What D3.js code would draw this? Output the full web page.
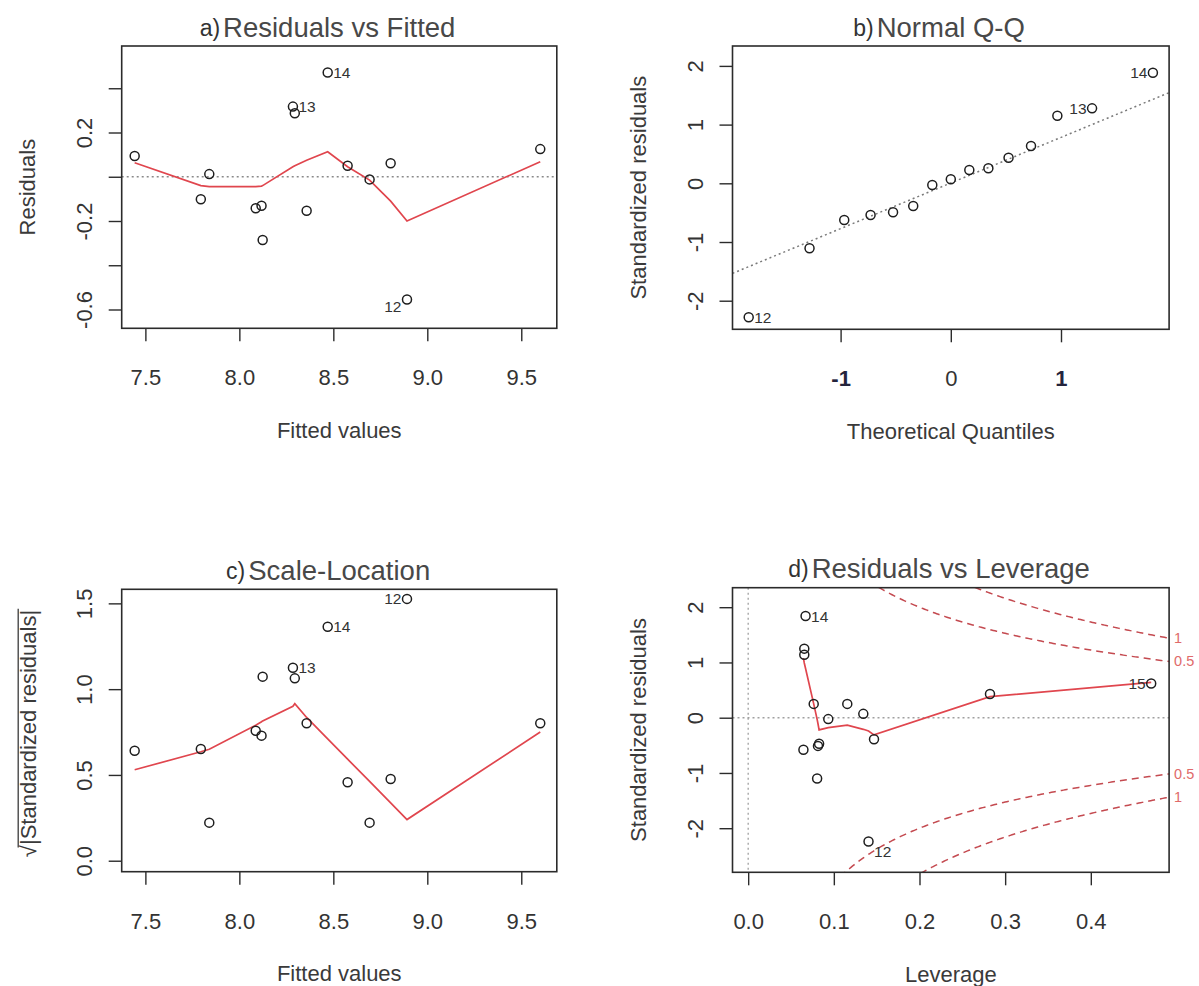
<!DOCTYPE html>
<html>
<head>
<meta charset="utf-8">
<title>Regression diagnostics</title>
<script src="https://cdn.jsdelivr.net/npm/d3@7/dist/d3.min.js"></script>
<style>
  html, body { margin: 0; padding: 0; background: #ffffff; }
  svg { display: block; }
  text { font-family: "Liberation Sans", Arial, Helvetica, sans-serif; }
</style>
</head>
<body>
<svg id="chart" width="1199" height="986"></svg>
<script>
// ---------- Residuals vs Fitted and Scale-Location (observations ordered by fitted value)
const fittedValues    = [7.443, 7.795, 7.840, 8.087, 8.118, 8.124, 8.285, 8.295, 8.358, 8.470, 8.576, 8.693, 8.805, 8.892, 9.601];
const residuals       = [0.094, -0.102, 0.012, -0.142, -0.131, -0.286, 0.317, 0.287, -0.154, 0.471, 0.050, -0.012, 0.061, -0.555, 0.125];
const residSmooth     = [0.063, -0.040, -0.045, -0.045, -0.042, -0.040, 0.045, 0.050, 0.075, 0.113, 0.045, -0.015, -0.110, -0.200, 0.068];
const sqrtAbsStdResid = [0.641, 0.651, 0.222, 0.758, 0.729, 1.073, 1.125, 1.063, 0.801, 1.364, 0.457, 0.222, 0.476, 1.526, 0.801];
const scaleSmooth     = [0.530, 0.635, 0.650, 0.790, 0.810, 0.815, 0.900, 0.915, 0.835, 0.710, 0.592, 0.462, 0.337, 0.240, 0.750];
const fittedIds       = ["", "", "", "", "", "", "13", "", "", "14", "", "", "", "12", ""];

// ---------- Normal Q-Q
const theoreticalQuantiles = [-1.834, -1.282, -0.967, -0.728, -0.524, -0.341, -0.168, 0.000, 0.168, 0.341, 0.524, 0.728, 0.967, 1.282, 1.834];
const qqStdResid           = [-2.283, -1.107, -0.625, -0.540, -0.494, -0.387, -0.029, 0.068, 0.227, 0.256, 0.436, 0.635, 1.152, 1.277, 1.884];
const qqIds                = ["12", "", "", "", "", "", "", "", "", "", "", "", "", "13", "14"];
const qqLineIntercept = 0.005;
const qqLineSlope = 0.777;

// ---------- Residuals vs Leverage (observations ordered by leverage)
const leverage    = [0.0645, 0.0655, 0.0655, 0.0670, 0.0765, 0.0805, 0.0815, 0.0828, 0.0935, 0.1157, 0.1344, 0.1405, 0.1469, 0.2823, 0.4705];
const levStdResid = [-0.58, 1.25, 1.14, 1.84, 0.25, -1.10, -0.51, -0.47, -0.025, 0.25, 0.07, -2.24, -0.39, 0.43, 0.62];
const levSmooth   = [1.08, 0.99, 0.99, 0.89, 0.25, -0.03, -0.11, -0.22, -0.18, -0.135, -0.21, -0.24, -0.31, 0.38, 0.64];
const levIds      = ["", "", "", "14", "", "", "", "", "", "", "", "12", "", "", "15"];
const cookLevels      = [0.5, 1];
const cookLevelLabels = ["0.5", "1"];
const modelParams = 2;

// ---------- Titles, axis titles and ticks
const panelTags     = ["a)", "b)", "c)", "d)"];
const panelCaptions = ["Residuals vs Fitted", "Normal Q-Q", "Scale-Location", "Residuals vs Leverage"];
const xAxisTitles   = ["Fitted values", "Theoretical Quantiles", "Fitted values", "Leverage"];
const yAxisTitles   = ["Residuals", "Standardized residuals", "|Standardized residuals|", "Standardized residuals"];

const fittedTicks      = [7.5, 8.0, 8.5, 9.0, 9.5];
const fittedTickLabels = ["7.5", "8.0", "8.5", "9.0", "9.5"];
const residTicks       = [-0.6, -0.4, -0.2, 0, 0.2, 0.4];
const residTickLabels  = ["-0.6", "", "-0.2", "", "0.2", ""];
const quantTicks       = [-1, 0, 1];
const quantTickLabels  = ["-1", "0", "1"];
const stdTicks         = [-2, -1, 0, 1, 2];
const stdTickLabels    = ["-2", "-1", "0", "1", "2"];
const sqrtTicks        = [0, 0.5, 1.0, 1.5];
const sqrtTickLabels   = ["0.0", "0.5", "1.0", "1.5"];
const levTicks         = [0, 0.1, 0.2, 0.3, 0.4];
const levTickLabels    = ["0.0", "0.1", "0.2", "0.3", "0.4"];

// ---------- Layout
const svg = d3.select("#chart");
const frames = [
  { x0: 121.7, x1: 556.8,  y0: 46.0,  y1: 328.3 },
  { x0: 732.5, x1: 1169.1, y0: 46.0,  y1: 329.3 },
  { x0: 121.7, x1: 556.8,  y0: 589.3, y1: 871.7 },
  { x0: 732.5, x1: 1169.1, y0: 587.7, y1: 872.3 }
];
const INK = "#2b2b2b";
const TEXT = "#3a3a3a";
const RED = "#e0464e";
const DOT = "#8a8a8a";

function makePanel(k, xDomain, yDomain, xTicks, xLabels, yTicks, yLabels) {
  const f = frames[k];
  const sx = d3.scaleLinear().domain(xDomain).range([f.x0, f.x1]);
  const sy = d3.scaleLinear().domain(yDomain).range([f.y1, f.y0]);
  const g = svg.append("g");
  const clipId = "plot-clip-" + k;
  g.append("clipPath").attr("id", clipId)
    .append("rect")
    .attr("x", f.x0).attr("y", f.y0)
    .attr("width", f.x1 - f.x0).attr("height", f.y1 - f.y0);
  const inner = g.append("g").attr("clip-path", `url(#${clipId})`);

  // x axis
  const gx = g.append("g").attr("class", "x-axis").attr("transform", `translate(0,${f.y1})`)
    .call(d3.axisBottom(sx).tickValues(xTicks)
      .tickFormat(d => xLabels[xTicks.indexOf(d)]).tickSize(13));
  gx.select(".domain").remove();
  gx.selectAll(".tick line").attr("stroke", INK).attr("stroke-width", 1.4);
  gx.selectAll(".tick text")
    .attr("y", 57).attr("dy", null)
    .attr("font-size", 22).attr("fill", "#333");

  // y axis, labels turned parallel to the axis
  const gy = g.append("g").attr("class", "y-axis").attr("transform", `translate(${f.x0},0)`)
    .call(d3.axisLeft(sy).tickValues(yTicks)
      .tickFormat(d => yLabels[yTicks.indexOf(d)]).tickSize(13));
  gy.select(".domain").remove();
  gy.selectAll(".tick line").attr("stroke", INK).attr("stroke-width", 1.4);
  gy.selectAll(".tick text")
    .attr("x", 0).attr("dy", null)
    .attr("transform", "translate(-37,0) rotate(-90)")
    .attr("text-anchor", "middle")
    .attr("dominant-baseline", "central")
    .attr("font-size", 22).attr("fill", "#333");

  // caption with panel tag
  const cx = (f.x0 + f.x1) / 2;
  const baseY = f.y0 - 9.5;
  const cap = g.append("text")
    .attr("x", cx).attr("y", baseY)
    .attr("text-anchor", "middle")
    .attr("font-size", 27.5).attr("fill", "#484848")
    .text(panelCaptions[k]);
  const capW = cap.node().getComputedTextLength();
  g.append("text")
    .attr("x", cx - capW / 2 - 3).attr("y", baseY - 1)
    .attr("text-anchor", "end")
    .attr("font-size", 23).attr("fill", "#333")
    .text(panelTags[k]);

  // x axis title
  g.append("text")
    .attr("x", cx).attr("y", f.y1 + 109.5)
    .attr("text-anchor", "middle")
    .attr("font-size", 22).attr("fill", TEXT)
    .text(xAxisTitles[k]);

  return { g, inner, sx, sy, f };
}

function yTitle(p, k) {
  const f = p.f;
  p.g.append("text")
    .attr("transform", `translate(${f.x0 - 94},${(f.y0 + f.y1) / 2}) rotate(-90)`)
    .attr("text-anchor", "middle")
    .attr("dominant-baseline", "central")
    .attr("font-size", 22).attr("fill", TEXT)
    .text(yAxisTitles[k]);
}

function drawFrame(p) {
  const f = p.f;
  p.g.append("rect")
    .attr("x", f.x0).attr("y", f.y0)
    .attr("width", f.x1 - f.x0).attr("height", f.y1 - f.y0)
    .attr("fill", "none").attr("stroke", INK).attr("stroke-width", 1.6);
}

function drawPoints(p, xs, ys) {
  p.inner.selectAll("circle.obs").data(xs).join("circle")
    .attr("class", "obs")
    .attr("cx", d => p.sx(d))
    .attr("cy", (d, i) => p.sy(ys[i]))
    .attr("r", 4.5)
    .attr("fill", "none").attr("stroke", "#1e1e1e").attr("stroke-width", 1.5);
}

function drawIds(p, xs, ys, ids, lowerShift) {
  const mid = d3.mean(p.sx.domain());
  ids.forEach((id, i) => {
    if (!id) return;
    const right = xs[i] < mid;
    const px = p.sx(xs[i]);
    const py = p.sy(ys[i]) + (lowerShift && ys[i] < 0 ? lowerShift : 0);
    p.g.append("text")
      .attr("x", right ? px + 5.5 : px - 5.5)
      .attr("y", py)
      .attr("text-anchor", right ? "start" : "end")
      .attr("dominant-baseline", "central")
      .attr("font-size", 15.5).attr("fill", "#333")
      .text(id);
  });
}

function drawSmooth(p, xs, ys) {
  const line = d3.line().x(d => p.sx(d)).y((d, i) => p.sy(ys[i]));
  p.inner.append("path")
    .attr("d", line(xs))
    .attr("fill", "none").attr("stroke", RED).attr("stroke-width", 1.7);
}

function hLine(p, v, color) {
  p.inner.append("line")
    .attr("x1", p.f.x0).attr("x2", p.f.x1)
    .attr("y1", p.sy(v)).attr("y2", p.sy(v))
    .attr("stroke", color).attr("stroke-width", 1.4).attr("stroke-dasharray", "2,3");
}

// ---------- a) Residuals vs Fitted
const pA = makePanel(0, [7.374, 9.689], [-0.685, 0.591], fittedTicks, fittedTickLabels, residTicks, residTickLabels);
yTitle(pA, 0);
hLine(pA, 0, DOT);
drawSmooth(pA, fittedValues, residSmooth);
drawPoints(pA, fittedValues, residuals);
drawIds(pA, fittedValues, residuals, fittedIds, 7);
drawFrame(pA);

// ---------- b) Normal Q-Q
const pB = makePanel(1, [-1.981, 1.981], [-2.487, 2.339], quantTicks, quantTickLabels, stdTicks, stdTickLabels);
yTitle(pB, 1);
pB.g.select(".x-axis").selectAll(".tick text")
  .filter(d => d !== 0)
  .attr("font-weight", "bold").attr("fill", "#24243c");
{
  const [q0, q1] = pB.sx.domain();
  pB.inner.append("line")
    .attr("x1", pB.sx(q0)).attr("y1", pB.sy(qqLineIntercept + qqLineSlope * q0))
    .attr("x2", pB.sx(q1)).attr("y2", pB.sy(qqLineIntercept + qqLineSlope * q1))
    .attr("stroke", "#7a7a7a").attr("stroke-width", 1.5).attr("stroke-dasharray", "2,3");
}
drawPoints(pB, theoreticalQuantiles, qqStdResid);
drawIds(pB, theoreticalQuantiles, qqStdResid, qqIds, 0);
drawFrame(pB);

// ---------- c) Scale-Location
const pC = makePanel(2, [7.374, 9.689], [-0.064, 1.582], fittedTicks, fittedTickLabels, sqrtTicks, sqrtTickLabels);
{
  // square-root label with its overbar
  const f = pC.f;
  const gl = pC.g.append("g")
    .attr("transform", `translate(${f.x0 - 85.5},${(f.y0 + f.y1) / 2 + 3}) rotate(-90)`);
  const t = gl.append("text")
    .attr("text-anchor", "middle")
    .attr("font-size", 22).attr("fill", TEXT);
  t.append("tspan").text("\u221A");
  t.append("tspan").text(yAxisTitles[2]);
  const total = t.node().getComputedTextLength();
  const rad = t.node().getSubStringLength(0, 1);
  gl.append("line")
    .attr("x1", -total / 2 + rad * 0.8).attr("x2", total / 2 + 1)
    .attr("y1", -18).attr("y2", -18)
    .attr("stroke", TEXT).attr("stroke-width", 1.3);
}
drawSmooth(pC, fittedValues, scaleSmooth);
drawPoints(pC, fittedValues, sqrtAbsStdResid);
drawIds(pC, fittedValues, sqrtAbsStdResid, fittedIds, 0);
drawFrame(pC);

// ---------- d) Residuals vs Leverage
const pD = makePanel(3, [-0.0183, 0.4914], [-2.798, 2.353], levTicks, levTickLabels, stdTicks, stdTickLabels);
yTitle(pD, 3);
hLine(pD, 0, "#a0a0a0");
pD.inner.append("line")
  .attr("x1", pD.sx(0)).attr("x2", pD.sx(0))
  .attr("y1", pD.f.y0).attr("y2", pD.f.y1)
  .attr("stroke", "#a0a0a0").attr("stroke-width", 1.3).attr("stroke-dasharray", "2,3");
{
  // Cook's distance contours
  const hMax = pD.sx.domain()[1];
  const hGrid = d3.range(0.01, hMax, 0.002).concat([hMax]);
  cookLevels.forEach((lvl, j) => {
    const bound = h => Math.sqrt(lvl * modelParams * (1 - h) / h);
    [1, -1].forEach(sign => {
      const line = d3.line().x(h => pD.sx(h)).y(h => pD.sy(sign * bound(h)));
      pD.inner.append("path")
        .attr("d", line(hGrid))
        .attr("fill", "none").attr("stroke", "#c44a50")
        .attr("stroke-width", 1.5).attr("stroke-dasharray", "7,5");
      pD.g.append("text")
        .attr("x", pD.f.x1 + 5)
        .attr("y", pD.sy(sign * bound(hMax)))
        .attr("dominant-baseline", "central")
        .attr("font-size", 14.5).attr("fill", "#e06a6a")
        .text(cookLevelLabels[j]);
    });
  });
}
drawSmooth(pD, leverage, levSmooth);
drawPoints(pD, leverage, levStdResid);
drawIds(pD, leverage, levStdResid, levIds, 10);
drawFrame(pD);
</script>
</body>
</html>
